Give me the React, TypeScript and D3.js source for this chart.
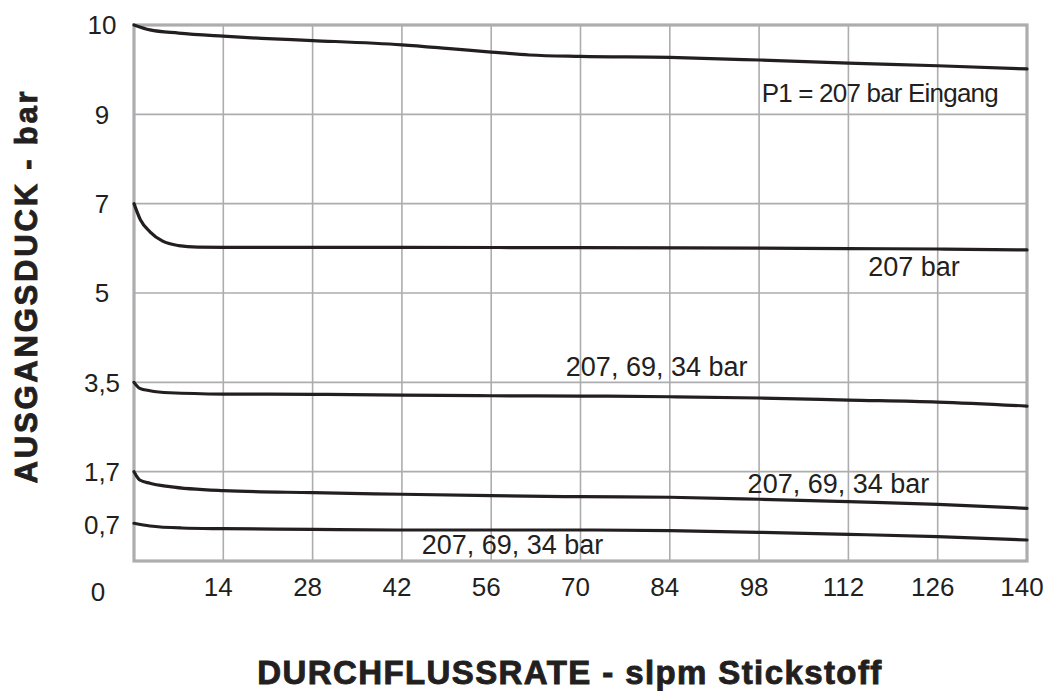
import React, { useEffect, useRef } from 'react';
import * as d3 from 'd3';

interface CurvePoint {
  flow: number;
  pressure: number;
}

// Flow rate points (slpm) and outlet pressure (bar)
const inletCurve: CurvePoint[] = [
  { flow: 0, pressure: 10 }, { flow: 2.5, pressure: 9.945 }, { flow: 7, pressure: 9.91 },
  { flow: 14, pressure: 9.875 }, { flow: 20, pressure: 9.85 }, { flow: 28, pressure: 9.826 },
  { flow: 42, pressure: 9.778 }, { flow: 49, pressure: 9.739 }, { flow: 56, pressure: 9.697 },
  { flow: 62, pressure: 9.664 }, { flow: 70, pressure: 9.648 }, { flow: 84, pressure: 9.637 },
  { flow: 98, pressure: 9.608 }, { flow: 112, pressure: 9.574 }, { flow: 126, pressure: 9.544 },
  { flow: 140, pressure: 9.508 }
];

const curve7: CurvePoint[] = [
  { flow: 0, pressure: 7.0 }, { flow: 1, pressure: 6.64 }, { flow: 2.5, pressure: 6.37 },
  { flow: 4.5, pressure: 6.16 }, { flow: 7, pressure: 6.06 }, { flow: 10, pressure: 6.025 },
  { flow: 14, pressure: 6.02 }, { flow: 42, pressure: 6.02 }, { flow: 70, pressure: 6.015 },
  { flow: 98, pressure: 6.005 }, { flow: 112, pressure: 5.995 }, { flow: 126, pressure: 5.985 },
  { flow: 140, pressure: 5.965 }
];

const curve35: CurvePoint[] = [
  { flow: 0, pressure: 3.5 }, { flow: 0.9, pressure: 3.379 }, { flow: 2.5, pressure: 3.331 },
  { flow: 5.6, pressure: 3.29 }, { flow: 14, pressure: 3.264 }, { flow: 28, pressure: 3.258 },
  { flow: 42, pressure: 3.244 }, { flow: 56, pressure: 3.23 }, { flow: 70, pressure: 3.224 },
  { flow: 84, pressure: 3.21 }, { flow: 98, pressure: 3.184 }, { flow: 112, pressure: 3.143 },
  { flow: 126, pressure: 3.103 }, { flow: 140, pressure: 3.022 }
];

const curve17: CurvePoint[] = [
  { flow: 0, pressure: 1.7 }, { flow: 0.9, pressure: 1.542 }, { flow: 2.5, pressure: 1.479 },
  { flow: 5.6, pressure: 1.414 }, { flow: 14, pressure: 1.338 }, { flow: 28, pressure: 1.3 },
  { flow: 42, pressure: 1.27 }, { flow: 56, pressure: 1.243 }, { flow: 70, pressure: 1.224 },
  { flow: 84, pressure: 1.213 }, { flow: 98, pressure: 1.175 }, { flow: 112, pressure: 1.129 },
  { flow: 126, pressure: 1.079 }, { flow: 140, pressure: 1.003 }
];

const curve07: CurvePoint[] = [
  { flow: 0, pressure: 0.718 }, { flow: 2.5, pressure: 0.666 }, { flow: 7.5, pressure: 0.628 },
  { flow: 14, pressure: 0.615 }, { flow: 28, pressure: 0.603 }, { flow: 42, pressure: 0.59 },
  { flow: 56, pressure: 0.59 }, { flow: 70, pressure: 0.59 }, { flow: 84, pressure: 0.577 },
  { flow: 98, pressure: 0.546 }, { flow: 112, pressure: 0.508 }, { flow: 126, pressure: 0.463 },
  { flow: 140, pressure: 0.4 }
];

// Axis definitions
const xTicks = [14, 28, 42, 56, 70, 84, 98, 112, 126, 140];
const xGridLines = [14, 28, 42, 56, 70, 84, 98, 112, 126];
const yBreaks = [0, 1.7, 3.5, 5, 7, 9, 10]; // equally spaced on the chart
const yTicks = [10, 9, 7, 5, 3.5, 1.7, 0.7];
const yGridLines = [9, 7, 5, 3.5, 1.7];

// Curve labels, anchored in data coordinates
const curveLabels = [
  { text: 'P1 = 207 bar Eingang', flow: 98.4, pressure: 9.14, tight: true },
  { text: '207 bar', flow: 115.1, pressure: 5.39, tight: false },
  { text: '207, 69, 34 bar', flow: 67.7, pressure: 3.6, tight: false },
  { text: '207, 69, 34 bar', flow: 96.2, pressure: 1.289, tight: false },
  { text: '207, 69, 34 bar', flow: 45.1, pressure: 0.133, tight: false }
];

const FONT = '"Liberation Sans", Arial, Helvetica, sans-serif';
const INK = '#231f20';
const GRID = '#adadb0';

export default function App() {
  const svgRef = useRef<SVGSVGElement | null>(null);

  useEffect(() => {
    if (!svgRef.current) return;
    const svg = d3.select(svgRef.current);
    svg.selectAll('*').remove();

    const width = 1056;
    const height = 691;
    const left = 134, right = 1027, top = 25, bottom = 561;

    svg.attr('width', width).attr('height', height).attr('viewBox', `0 0 ${width} ${height}`);

    svg.append('rect').attr('width', width).attr('height', height).attr('fill', '#ffffff');

    const x = d3.scaleLinear().domain([0, 140]).range([left, right]);
    const step = (bottom - top) / (yBreaks.length - 1);
    const y = d3.scaleLinear()
      .domain(yBreaks)
      .range(yBreaks.map((_, i) => bottom - i * step));

    // Grid
    const grid = svg.append('g');
    grid.selectAll('.vgrid')
      .data(xGridLines)
      .enter()
      .append('line')
      .attr('x1', d => x(d)).attr('x2', d => x(d))
      .attr('y1', top).attr('y2', bottom)
      .attr('stroke', GRID).attr('stroke-width', 1.6);
    grid.selectAll('.hgrid')
      .data(yGridLines)
      .enter()
      .append('line')
      .attr('x1', left).attr('x2', right)
      .attr('y1', d => y(d)).attr('y2', d => y(d))
      .attr('stroke', GRID).attr('stroke-width', 1.6);

    // Frame
    svg.append('rect')
      .attr('x', x(0)).attr('y', y(10))
      .attr('width', x(140) - x(0)).attr('height', y(0) - y(10))
      .attr('fill', 'none')
      .attr('stroke', GRID)
      .attr('stroke-width', 3.2);

    // Curves
    const line = d3.line<CurvePoint>()
      .x(d => x(d.flow))
      .y(d => y(d.pressure))
      .curve(d3.curveMonotoneX);

    [inletCurve, curve7, curve35, curve17, curve07].forEach(series => {
      svg.append('path')
        .datum(series)
        .attr('fill', 'none')
        .attr('stroke', INK)
        .attr('stroke-width', 3.2)
        .attr('stroke-linecap', 'round')
        .attr('d', line);
    });

    // X tick labels
    svg.append('g')
      .selectAll('text')
      .data(xTicks)
      .enter()
      .append('text')
      .attr('x', d => x(d) - 5)
      .attr('y', y(0) + 35)
      .attr('text-anchor', 'middle')
      .attr('font-family', FONT)
      .attr('font-size', 26)
      .attr('fill', INK)
      .text(d => d);

    // Origin label
    svg.append('text')
      .attr('x', 98)
      .attr('y', y(0) + 40)
      .attr('text-anchor', 'middle')
      .attr('font-family', FONT)
      .attr('font-size', 26)
      .attr('fill', INK)
      .text('0');

    // Y tick labels
    svg.append('g')
      .selectAll('text')
      .data(yTicks)
      .enter()
      .append('text')
      .attr('x', 102)
      .attr('y', d => y(d) + 9.3)
      .attr('text-anchor', 'middle')
      .attr('font-family', FONT)
      .attr('font-size', 26)
      .attr('fill', INK)
      .text(d => String(d).replace('.', ','));

    // Curve labels
    curveLabels.forEach(l => {
      svg.append('text')
        .attr('x', x(l.flow))
        .attr('y', y(l.pressure))
        .attr('font-family', FONT)
        .attr('font-size', l.tight ? 26 : 27)
        .attr('letter-spacing', l.tight ? -0.8 : 0)
        .attr('fill', INK)
        .text(l.text);
    });

    // Axis titles
    svg.append('text')
      .attr('x', 570)
      .attr('y', 684)
      .attr('text-anchor', 'middle')
      .attr('font-family', FONT)
      .attr('font-weight', 'bold')
      .attr('font-size', 33)
      .attr('letter-spacing', 1.4)
      .attr('fill', INK)
      .attr('stroke', INK)
      .attr('stroke-width', 0.9)
      .text('DURCHFLUSSRATE - slpm Stickstoff');

    svg.append('text')
      .attr('transform', 'translate(37,286) rotate(-90)')
      .attr('text-anchor', 'middle')
      .attr('font-family', FONT)
      .attr('font-weight', 'bold')
      .attr('font-size', 31)
      .attr('letter-spacing', 2.8)
      .attr('fill', INK)
      .attr('stroke', INK)
      .attr('stroke-width', 0.9)
      .text('AUSGANGSDUCK - bar');
  }, []);

  return (
    <div style={{ position: 'absolute', left: 0, top: 0, width: 1056, height: 691, background: '#fff' }}>
      <svg ref={svgRef} style={{ display: 'block' }}></svg>
    </div>
  );
}
